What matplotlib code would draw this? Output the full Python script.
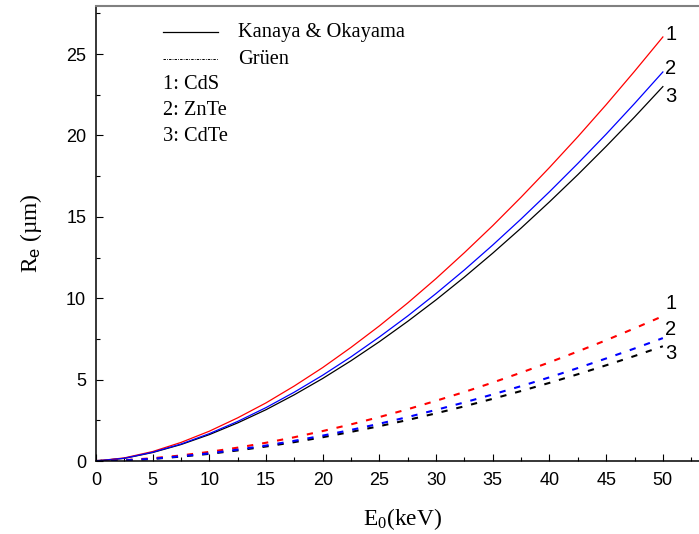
import matplotlib
matplotlib.use("Agg")
import matplotlib.pyplot as plt
from matplotlib.ticker import MultipleLocator

# Electron range R_e (µm) versus beam energy E_0 (keV)
energy = [0, 2.5, 5, 7.5, 10, 12.5, 15, 17.5, 20, 22.5, 25,
          27.5, 30, 32.5, 35, 37.5, 40, 42.5, 45, 47.5, 50]

# Kanaya & Okayama
ko_cds = [0, 0.19, 0.58, 1.14, 1.83, 2.65, 3.57, 4.61, 5.74, 6.98, 8.30,
          9.71, 11.21, 12.80, 14.46, 16.21, 18.03, 19.92, 21.89, 23.94, 26.05]
ko_znte = [0, 0.17, 0.54, 1.04, 1.68, 2.43, 3.28, 4.23, 5.27, 6.40, 7.62,
           8.91, 10.29, 11.74, 13.27, 14.87, 16.54, 18.28, 20.08, 21.96, 23.90]
ko_cdte = [0, 0.16, 0.52, 1.01, 1.62, 2.34, 3.15, 4.07, 5.07, 6.16, 7.33,
           8.58, 9.90, 11.30, 12.77, 14.31, 15.92, 17.59, 19.33, 21.13, 23.00]

# Grüen
gr_cds = [0, 0.05, 0.17, 0.34, 0.56, 0.82, 1.12, 1.46, 1.84, 2.25, 2.70,
          3.18, 3.70, 4.24, 4.82, 5.43, 6.06, 6.73, 7.42, 8.15, 8.90]
gr_znte = [0, 0.04, 0.14, 0.29, 0.47, 0.70, 0.95, 1.24, 1.56, 1.91, 2.29,
           2.70, 3.14, 3.60, 4.09, 4.60, 5.14, 5.71, 6.30, 6.91, 7.55]
gr_cdte = [0, 0.04, 0.13, 0.27, 0.44, 0.65, 0.89, 1.16, 1.46, 1.79, 2.14,
           2.52, 2.93, 3.36, 3.82, 4.30, 4.80, 5.33, 5.88, 6.45, 7.05]

materials = ["1: CdS", "2: ZnTe", "3: CdTe"]
curve_ids = ["1", "2", "3"]

plt.rcParams["font.family"] = ["Liberation Sans", "DejaVu Sans"]
plt.rcParams["mathtext.fontset"] = "custom"
plt.rcParams["mathtext.rm"] = "Liberation Serif"
plt.rcParams["mathtext.sf"] = "Liberation Sans"

fig = plt.figure(figsize=(6.99, 5.34), dpi=100)
ax = fig.add_axes([0.1372, 0.1367, 0.876, 0.852])

serif = ["Liberation Serif", "DejaVu Serif"]

# solid: Kanaya & Okayama
ax.plot(energy, ko_cdte, color="black", lw=0.9)
ax.plot(energy, ko_cds, color="#ff0000", lw=0.9)
ax.plot(energy, ko_znte, color="#0000ff", lw=0.9)

# dashed: Grüen
dash = (0, (3.0, 4.3))
ax.plot(energy, gr_cdte, color="black", lw=1.5, linestyle=dash)
ax.plot(energy, gr_cds, color="#ff0000", lw=1.5, linestyle=dash)
ax.plot(energy, gr_znte, color="#0000ff", lw=1.5, linestyle=dash)

# curve numbers at the right end
for ident, yv in zip(curve_ids, [26.2, 24.1, 22.4]):
    ax.text(50.2, yv, ident, fontsize=14.5, ha="left", va="center")
for ident, yv in zip(curve_ids, [9.7, 8.05, 6.6]):
    ax.text(50.2, yv, ident, fontsize=14.5, ha="left", va="center")

ax.set_xlim(0, 54)
ax.set_ylim(0, 27.95)
ax.xaxis.set_major_locator(MultipleLocator(5))
ax.xaxis.set_minor_locator(MultipleLocator(2.5))
ax.yaxis.set_major_locator(MultipleLocator(5))
ax.yaxis.set_minor_locator(MultipleLocator(2.5))
ax.tick_params(which="both", direction="in", width=0.8, labelsize=13)
ax.tick_params(which="major", length=5)
ax.tick_params(which="minor", length=3)
ax.tick_params(axis="x", pad=8)
ax.tick_params(axis="y", pad=7)

ax.spines["left"].set_linewidth(1.1)
ax.spines["bottom"].set_linewidth(1.1)
ax.spines["top"].set_color("#808080")
ax.spines["top"].set_linewidth(1.5)
ax.spines["right"].set_visible(False)

ax.set_xlabel(r"E$_\mathrm{0}$(keV)", fontsize=16.8, family=serif, labelpad=12)
ax.set_ylabel(r"R$_\mathsf{e}$ (µm)", fontsize=16.8, family=serif, labelpad=16)

# legend block
tr = ax.transAxes
def ax_xy(px, py):
    return ((px - 95.9) / 612.4, (461 - py) / 455)

x0, _ = ax_xy(162.7, 0)
x1, _ = ax_xy(218.3, 0)
xt, _ = ax_xy(238, 0)
_, y_ko = ax_xy(0, 32.3)
_, y_gr = ax_xy(0, 59)
ax.plot([x0, x1], [y_ko, y_ko], color="black", lw=0.9, transform=tr)
ax.plot([x0, x1], [y_gr, y_gr], color="black", lw=0.7,
        linestyle=(0, (2.5, 1.2, 0.8, 1.2)), transform=tr)
ax.text(xt, y_ko, "Kanaya & Okayama", fontsize=14.7, family=serif,
        ha="left", va="center", transform=tr)
ax.text(xt, y_gr, "Grüen", fontsize=14.7, family=serif,
        ha="left", va="center", transform=tr)
for name, py in zip(materials, [84, 110, 136]):
    _, yy = ax_xy(0, py)
    ax.text(x0, yy, name, fontsize=14.7, family=serif,
            ha="left", va="center", transform=tr)

fig.savefig("out.png", dpi=100)
